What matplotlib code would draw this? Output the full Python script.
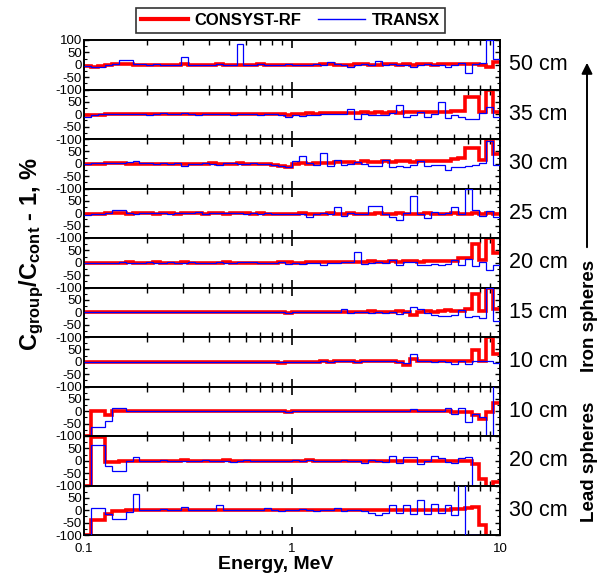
import numpy as np
import matplotlib
matplotlib.use("Agg")
import matplotlib.pyplot as plt
from matplotlib.lines import Line2D
from matplotlib.patches import FancyArrowPatch
from matplotlib.ticker import MultipleLocator, LogLocator, NullFormatter

plt.rcParams['font.family'] = ['Liberation Sans', 'DejaVu Sans']
plt.rcParams['mathtext.fontset'] = 'custom'
plt.rcParams['mathtext.rm'] = 'Liberation Sans:bold'
plt.rcParams['mathtext.it'] = 'Liberation Sans:bold'
plt.rcParams['mathtext.bf'] = 'Liberation Sans:bold'

# energy group boundaries, MeV (30 groups per decade)
group_edges = np.logspace(-1, 1, 61)

# C_group/C_cont - 1 in %, one value per energy group
# --- iron spheres ---
red_fe50 = [-5, -8, -7, -2, 2, 4, 3, 0, 1, -1, 0, -2, 1, 0, 2, 0, -1, 1, 0, 2,
            0, -1, 0, 1, 0, 2, 0, -1, 1, 0, -2, 0, 1, -1, 2, 3, 0, -2, 1, 3,
            2, -1, 0, 2, 3, 1, 2, -1, 2, 3, 0, 2, 4, 2, 3, 5, 4, 1, -10, 10]
blue_fe50 = [-5, -8, -8, 0, 2, 20, 20, 3, 2, -3, 2, -3, 0, 0, 30, 0, -3, 0, 0, 2,
             0, 0, 82, 0, 0, 2, -2, 0, 0, 2, -2, -3, 0, 2, 0, 12, 2, -3, -10, 0,
             3, -2, 15, 0, 2, -2, 0, -10, 0, 2, 0, 0, -10, 0, 8, -35, 5, 8, 100, 25]

red_fe35 = [-5, -5, -3, 0, 0, 1, 2, 3, 2, 1, 0, 2, 1, 0, 2, 0, 1, 2, 1, 2,
            3, 1, 2, 0, 2, 1, 2, 0, 1, -5, 2, 3, 4, 2, 5, 4, 6, 5, 4, 7,
            8, 6, 8, 7, 8, 6, 8, 9, 8, 10, 8, 9, 8, 15, 12, 70, 70, 8, 100, 10]
blue_fe35 = [-10, -3, 0, 0, 0, 2, 2, 0, 1, -2, 0, 5, 3, 0, 4, 0, -2, 2, 0, 3,
             0, -3, 2, 0, 0, -3, 2, 0, -2, -12, -5, -8, -3, -5, 0, 2, 0, 3, 20, -20,
             0, -5, -3, -2, 5, 38, -10, -5, 10, -10, 0, 50, -15, -5, -10, -20, -20, 5, 30, -10]

red_fe30 = [0, 0, 1, 2, 2, 2, 1, 0, -1, 0, 1, 0, -1, 0, 1, -1, 0, 1, 2, 0,
            1, 0, 2, 1, 0, -2, -3, -5, -8, -12, -3, 2, 0, 3, 5, 4, 6, 8, 7, 5,
            10, 8, 9, 10, 8, 10, 12, 9, 10, 11, 10, 12, 10, 18, 22, 64, 64, 15, 100, 40]
blue_fe30 = [0, 3, 2, 3, 5, 5, 8, 12, 5, 3, 0, 2, -2, 3, -10, 0, -3, 2, 0, -5,
             3, 2, 0, -3, 2, 0, -2, -5, -10, -15, 10, 32, 5, -5, 43, -10, 15, -5, -2, 8,
             0, -10, -10, 15, -15, -10, -15, -5, 10, -10, -5, -5, -25, -15, -15, -10, -5, 5, 90, -5]

red_fe25 = [-3, -2, -2, -1, 0, -1, -2, -1, 0, -1, -2, 0, -1, -2, -1, 0, -1, -2, -1, 0,
            -2, -1, 0, -1, -2, -1, -2, -3, -2, -3, -2, -1, -2, -3, -2, -1, -3, -2, -1, -2,
            -3, -2, -1, -2, -3, -1, -2, -3, -2, -1, -2, -3, -2, -1, -3, -2, 0, -2, -1, -2]
blue_fe25 = [-8, -3, -2, 0, 15, 15, 0, -2, -1, 0, 2, 0, -2, 0, 2, 0, 5, -2, 0, 2,
             0, 3, 0, -2, 0, -3, 2, -2, -5, -5, -5, -3, -15, -2, 0, -5, 24, -10, 0, -3,
             -2, 31, 31, -5, -15, -26, 0, 70, -5, -20, 5, -5, 0, 25, -5, 100, 15, -10, 10, -15]

red_fe20 = [0, 1, 0, 1, 0, 1, 2, 1, 0, 1, 2, 1, 0, 1, 2, 1, 0, 1, 0, 1,
            2, 1, 0, 1, 0, -1, 0, 1, 2, 5, 0, 1, 2, 3, 2, 3, 4, 3, 5, 4,
            5, 6, 4, 5, 6, 5, 7, 6, 5, 8, 7, 6, 8, 7, 20, 20, 75, 10, 100, 40]
blue_fe20 = [0, 0, -2, 0, 0, 2, 0, 1, -1, 2, 0, 1, 2, 0, 1, 2, 0, -1, 0, 2,
             0, 1, 3, 5, 2, 0, -1, 0, 2, -5, -3, -5, -2, 0, -8, -3, 0, 5, 5, 43,
             -5, 0, 2, -2, 10, -10, 5, 5, -10, -10, -5, -10, -5, 10, -10, 15, -15, 5, -30, -10]

red_fe15 = [0, 0, 1, 0, -1, 0, 1, 0, -1, 0, 1, 0, 0, 1, 0, -1, 0, 1, 0, 0,
            1, 0, 1, 0, 0, 1, 0, 1, 0, -2, 0, 1, 0, 1, 0, 2, 3, 2, 3, 2,
            3, 4, 3, 2, 3, 4, 3, -10, 3, 4, 3, 4, 10, 5, 6, 15, 74, 5, 100, 15]
blue_fe15 = [0, 0, 1, 0, -1, 0, 1, 0, -1, 0, 1, 0, 0, 1, 0, -1, 0, 1, 0, 0,
             1, 0, 1, 0, 0, 1, 0, 1, 0, -2, 0, 1, 0, 1, 0, 2, 3, 12, -5, 2,
             3, -2, 3, -5, 3, -8, 3, 20, 15, -3, -10, -15, -15, -10, 10, -20, -15, -25, 100, -35]

red_fe10 = [0, 0, 1, 0, -1, 0, 1, 0, 0, 1, 0, -1, 0, 1, 0, 0, 1, 0, -1, 0,
            1, 0, 0, 1, 0, -1, 0, 0, -5, -2, 0, 1, 0, 1, 2, 1, 2, 3, 2, 1,
            2, 3, 2, 3, 2, 1, -15, 10, 2, 3, 2, 3, 2, 5, 3, 4, 47, 3, 100, 30]
blue_fe10 = [0, 0, 1, 0, -1, 0, 1, 0, 0, 1, 0, -1, 0, 1, 0, 0, 1, 0, -1, 0,
             1, 0, 0, 1, 0, -1, 0, 0, -3, -2, 0, 1, 0, 1, 2, 1, 2, 3, 2, 1,
             2, 3, 2, 3, 2, 1, -5, 30, 2, 3, 0, 3, -2, -10, 3, -10, 5, 3, 5, -5]

# --- lead spheres ---
red_pb10 = [-100, 0, 0, -15, 0, 0, 0, 2, 0, 1, 0, 1, 2, 1, 0, 1, 0, 1, 2, 1,
            0, 1, 0, 1, 0, 2, 1, 0, 1, -2, 0, 1, 0, 1, 0, 1, 0, 1, 0, 1,
            0, 1, 0, 1, 2, 1, 0, 2, 1, 0, 1, 0, 1, -3, -5, -5, -15, -30, -5, 35]
blue_pb10 = [-100, -65, -65, -40, 15, 15, 0, 1, 0, 1, 0, -1, 0, 1, 0, 1, 0, 1, 0, 1,
             0, 1, 0, 1, 0, 1, 0, -1, 0, -2, 0, 1, 0, 1, 0, 1, 0, 1, 0, 1,
             0, 1, 0, 1, 0, 1, 0, 10, 0, 1, 0, 1, 15, -10, 15, -44, -10, -25, -130, 130]

red_pb20 = [-100, 95, 95, -5, -5, 0, 0, 1, 0, 1, 0, 1, 0, 1, 2, 1, 0, 1, 0, 1,
            2, 1, 0, 1, 0, 1, 0, 1, 0, 1, 0, 1, 2, 1, 0, 1, 0, 1, 0, 1,
            0, 1, 0, 1, 0, 1, 0, 1, 0, 1, 0, 1, 0, 1, 0, 1, -15, -75, -130, -85]
blue_pb20 = [-100, 65, 65, -20, -40, -40, 0, 15, 0, -3, 0, 2, 0, 1, 0, -2, 0, 2, 0, 1,
             0, -5, 0, 2, 0, 1, 0, -3, 0, -2, 2, 0, 3, 0, 1, -2, 0, 5, -3, 0,
             -10, 2, 0, -5, 20, -10, 15, 15, -15, 0, 20, 10, -5, -10, 10, 15, -100, -100, -130, -130]

red_pb30 = [-100, -38, -38, -14, -5, -5, 0, 0, 1, 2, 1, 0, 1, 2, 1, 0, 1, 2, 1, 0,
            1, 0, 1, 2, 1, 0, 1, 0, 1, 0, 1, 2, 1, 0, 1, 0, 1, 2, 1, 0,
            1, 0, 1, 2, 1, 0, 1, 0, 1, 2, 1, 0, 2, 5, 5, 10, 15, -60, -130, -130]
blue_pb30 = [-100, 10, 10, -15, -35, -35, -8, 65, 0, 0, 2, 5, 3, 0, 15, 0, 2, 3, 0, 20,
             0, 2, 0, 3, 0, 2, 8, 0, -3, 2, 0, 5, 0, -3, 2, 0, 10, -5, 0, 2,
             -5, -10, -20, -10, 20, -10, 20, -15, 40, -15, 25, -10, 20, -20, 130, -100, -100, -130, -130, -130]

red_series = [red_fe50, red_fe35, red_fe30, red_fe25, red_fe20, red_fe15, red_fe10,
              red_pb10, red_pb20, red_pb30]
blue_series = [blue_fe50, blue_fe35, blue_fe30, blue_fe25, blue_fe20, blue_fe15, blue_fe10,
               blue_pb10, blue_pb20, blue_pb30]
panel_labels = ['50 cm', '35 cm', '30 cm', '25 cm', '20 cm', '15 cm', '10 cm',
                '10 cm', '20 cm', '30 cm']

fig = plt.figure(figsize=(6.05, 5.76), dpi=100)

left, right = 84 / 605, 500 / 605
top, bottom = 1 - 40 / 576, 1 - 535 / 576
n_panels = len(red_series)
h = (top - bottom) / n_panels

axes = []
for i in range(n_panels):
    ax = fig.add_axes([left, top - (i + 1) * h, right - left, h])
    ax.stairs(red_series[i], group_edges, baseline=None, color='#ff0000', lw=2.6, zorder=2)
    ax.stairs(blue_series[i], group_edges, baseline=None, color='#0000ff', lw=0.9, zorder=3)

    ax.set_xscale('log')
    ax.set_xlim(0.1, 10)
    ax.set_ylim(-100, 100)
    ax.yaxis.set_major_locator(MultipleLocator(50))
    ax.yaxis.set_minor_locator(MultipleLocator(25))
    ax.xaxis.set_minor_locator(LogLocator(base=10, subs=np.arange(2, 10)))
    ax.xaxis.set_minor_formatter(NullFormatter())

    ax.tick_params(axis='both', which='both', direction='in', top=True, right=True)
    ax.tick_params(axis='x', which='major', length=6, width=1.2, labelsize=9.5, pad=6)
    ax.tick_params(axis='x', which='minor', length=3.5, width=1)
    ax.tick_params(axis='y', which='major', length=3.5, width=1, labelsize=9.5, pad=1.5)
    ax.tick_params(axis='y', which='minor', length=2, width=0.8)
    for sp in ax.spines.values():
        sp.set_linewidth(1.4)

    ax.set_yticks([-100, -50, 0, 50, 100])
    if i == 0:
        ax.set_yticklabels(['-100', '-50', '0', '50', '100'])
    else:
        ax.set_yticklabels(['-100', '-50', '0', '50', ''])

    if i < n_panels - 1:
        ax.tick_params(axis='x', labelbottom=False)
    else:
        ax.set_xticks([0.1, 1, 10])
        ax.set_xticklabels(['0.1', '1', '10'])

    ax.text(1.022, 0.5, panel_labels[i], transform=ax.transAxes,
            fontsize=15.5, ha='left', va='center')
    axes.append(ax)

fig.text(276 / 605, 1 - 569 / 576, 'Energy, MeV', fontsize=14, fontweight='bold',
         ha='center', va='baseline')
fig.text(32 / 605, 1 - 254 / 576,
         r'C$_{\mathrm{group}}$/C$_{\mathrm{cont}}$ - 1, %',
         fontsize=17, fontweight='bold', rotation=90, ha='center', va='center')

# sphere material markers on the right
fig.add_artist(FancyArrowPatch((587 / 605, 1 - 250 / 576), (587 / 605, 1 - 60 / 576),
                               transform=fig.transFigure, arrowstyle='-|>',
                               mutation_scale=16, lw=1.4, color='black'))
fig.text(589 / 605, 1 - 316 / 576, 'Iron spheres', fontsize=13.5, fontweight='bold',
         rotation=90, ha='center', va='center')
fig.text(589 / 605, 1 - 462 / 576, 'Lead spheres', fontsize=13.5, fontweight='bold',
         rotation=90, ha='center', va='center')

handles = [Line2D([], [], color='#ff0000', lw=3),
           Line2D([], [], color='#0000ff', lw=1)]
leg = fig.legend(handles, ['CONSYST-RF', 'TRANSX'], ncol=2,
                 loc='center', bbox_to_anchor=(290.5 / 605, 1 - 20.5 / 576),
                 prop={'weight': 'bold', 'size': 12}, frameon=True, fancybox=False,
                 edgecolor='black', handlelength=2.8, handletextpad=0.4,
                 columnspacing=1.0, borderpad=0.3, borderaxespad=0)
leg.get_frame().set_linewidth(1.2)

fig.savefig('out.png', dpi=100)
